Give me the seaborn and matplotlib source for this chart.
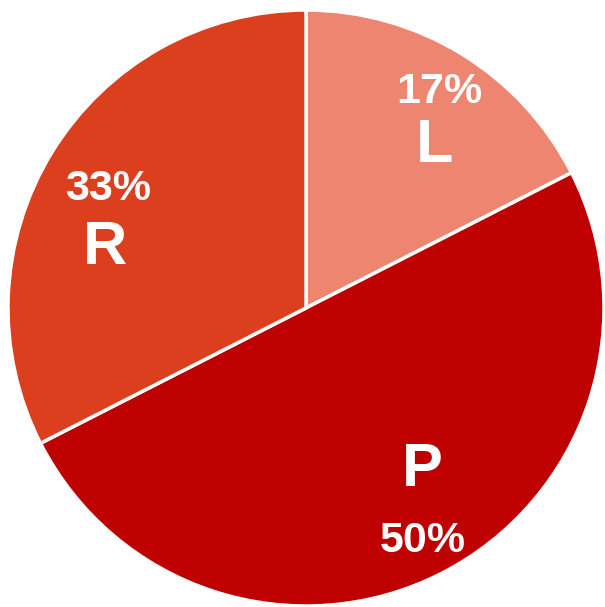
import matplotlib
matplotlib.use("Agg")
import matplotlib.pyplot as plt
import seaborn as sns

categories = ["L", "P", "R"]
values = [17.5, 50, 32.5]
pct_labels = ["17%", "50%", "33%"]
colors = ["#EE8571", "#BE0000", "#DC3F1E"]

sns.set_theme(style="white")
plt.rcParams["font.family"] = ["Liberation Sans", "DejaVu Sans"]

W, H = 605, 607
fig = plt.figure(figsize=(W / 100, H / 100), dpi=100)
cx, cy, r = 306, 308, 298
ax = fig.add_axes([(cx - r) / W, (H - cy - r) / H, 2 * r / W, 2 * r / H])
wedges, _ = ax.pie(values, colors=colors, startangle=90, counterclock=False,
                   radius=1, wedgeprops=dict(edgecolor="white", linewidth=2.5))
ax.set_xlim(-1, 1)
ax.set_ylim(-1, 1)
ax.set_aspect("equal")
ax.axis("off")

# label layout: (pct position, letter position)
layout = {
    "L": ((0.447, 0.726), (0.433, 0.542)),
    "P": ((0.393, -0.782), (0.389, -0.545)),
    "R": ((-0.664, 0.398), (-0.674, 0.200)),
}
for cat, lab in zip(categories, pct_labels):
    (px, py), (lx, ly) = layout[cat]
    ax.text(px, py, lab, color="white", fontsize=31, fontweight="bold",
            ha="center", va="center")
    ax.text(lx, ly, cat, color="white", fontsize=44, fontweight="bold",
            ha="center", va="center")

fig.savefig("out.png", dpi=100)
